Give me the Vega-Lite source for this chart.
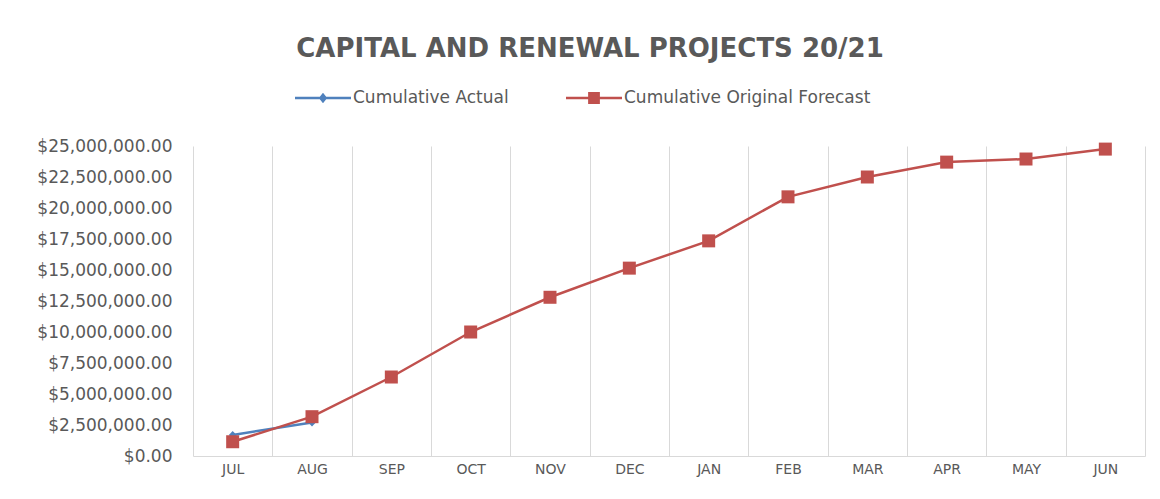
{
  "$schema": "https://vega.github.io/schema/vega-lite/v6.json",
  "width": 952,
  "height": 310,
  "autosize": {"type": "none"},
  "padding": {"left": 193, "top": 146, "right": 15, "bottom": 43},
  "background": "white",
  "title": {
    "text": "CAPITAL AND RENEWAL PROJECTS 20/21",
    "font": "DejaVu Sans",
    "fontSize": 26,
    "fontWeight": "bold",
    "color": "#595959",
    "anchor": "middle",
    "dx": -79,
    "offset": 8
  },
  "config": {
    "view": {"stroke": null},
    "axis": {"labelFont": "DejaVu Sans", "labelColor": "#595959"},
    "legend": {
      "labelFont": "DejaVu Sans",
      "labelColor": "#595959",
      "orient": "none",
      "direction": "horizontal",
      "legendX": 102,
      "legendY": -76,
      "symbolSize": 3136,
      "symbolStrokeWidth": 0,
      "labelFontSize": 17,
      "labelOffset": 2,
      "labelLimit": 500,
      "columnPadding": 57,
      "padding": 0
    }
  },
  "data": {
    "values": [
      {"month": "JUL", "series": "Cumulative Actual", "value": 1700000},
      {"month": "AUG", "series": "Cumulative Actual", "value": 2700000},
      {"month": "JUL", "series": "Cumulative Original Forecast", "value": 1150000},
      {"month": "AUG", "series": "Cumulative Original Forecast", "value": 3170000},
      {"month": "SEP", "series": "Cumulative Original Forecast", "value": 6370000},
      {"month": "OCT", "series": "Cumulative Original Forecast", "value": 10000000},
      {"month": "NOV", "series": "Cumulative Original Forecast", "value": 12800000},
      {"month": "DEC", "series": "Cumulative Original Forecast", "value": 15150000},
      {"month": "JAN", "series": "Cumulative Original Forecast", "value": 17350000},
      {"month": "FEB", "series": "Cumulative Original Forecast", "value": 20900000},
      {"month": "MAR", "series": "Cumulative Original Forecast", "value": 22500000},
      {"month": "APR", "series": "Cumulative Original Forecast", "value": 23700000},
      {"month": "MAY", "series": "Cumulative Original Forecast", "value": 23950000},
      {"month": "JUN", "series": "Cumulative Original Forecast", "value": 24750000}
    ]
  },
  "encoding": {
    "x": {
      "field": "month",
      "type": "ordinal",
      "sort": ["JUL", "AUG", "SEP", "OCT", "NOV", "DEC", "JAN", "FEB", "MAR", "APR", "MAY", "JUN"],
      "scale": {"type": "band", "paddingInner": 0, "paddingOuter": 0},
      "bandPosition": 0.5,
      "axis": {
        "title": null,
        "labelAngle": 0,
        "labelFontSize": 14,
        "labelPadding": 6,
        "ticks": false,
        "tickSize": 0,
        "tickBand": "extent",
        "grid": true,
        "gridColor": "#d9d9d9",
        "gridWidth": 1,
        "domainColor": "#d9d9d9",
        "domainWidth": 1
      }
    },
    "y": {
      "field": "value",
      "type": "quantitative",
      "scale": {"domain": [0, 25000000], "nice": false},
      "axis": {
        "title": null,
        "values": [0, 2500000, 5000000, 7500000, 10000000, 12500000, 15000000, 17500000, 20000000, 22500000, 25000000],
        "format": "$,.2f",
        "labelFontSize": 17,
        "labelPadding": 21,
        "ticks": false,
        "tickSize": 0,
        "domain": false,
        "grid": false
      }
    }
  },
  "layer": [
    {
      "mark": {"type": "line", "strokeWidth": 2.5},
      "encoding": {
        "stroke": {
          "field": "series",
          "type": "nominal",
          "title": null,
          "scale": {
            "domain": ["Cumulative Actual", "Cumulative Original Forecast"],
            "range": ["#4F81BD", "#C0504D"]
          }
        }
      }
    },
    {
      "mark": {"type": "point", "filled": true, "opacity": 1, "strokeWidth": 0},
      "encoding": {
        "fill": {
          "field": "series",
          "type": "nominal",
          "title": null,
          "scale": {
            "domain": ["Cumulative Actual", "Cumulative Original Forecast"],
            "range": ["#4F81BD", "#C0504D"]
          }
        },
        "shape": {
          "condition": {"test": "datum.series === 'Cumulative Actual'", "value": "diamond"},
          "value": "square"
        },
        "size": {
          "condition": {"test": "datum.series === 'Cumulative Actual'", "value": 60},
          "value": 169
        }
      }
    },
    {
      "mark": {"type": "point", "filled": true, "size": 0},
      "encoding": {
        "color": {
          "field": "series",
          "type": "nominal",
          "title": null,
          "scale": {
            "domain": ["Cumulative Actual", "Cumulative Original Forecast"],
            "range": ["#4F81BD", "#C0504D"]
          }
        },
        "shape": {
          "field": "series",
          "type": "nominal",
          "title": null,
          "scale": {
            "domain": ["Cumulative Actual", "Cumulative Original Forecast"],
            "range": [
              "M-1,-0.045L1,-0.045L1,0.045L-1,0.045Z M0,-0.19L0.15,0L0,0.19L-0.15,0Z",
              "M-1,-0.045L1,-0.045L1,0.045L-1,0.045Z M-0.21,-0.21L0.21,-0.21L0.21,0.21L-0.21,0.21Z"
            ]
          }
        }
      }
    }
  ]
}
